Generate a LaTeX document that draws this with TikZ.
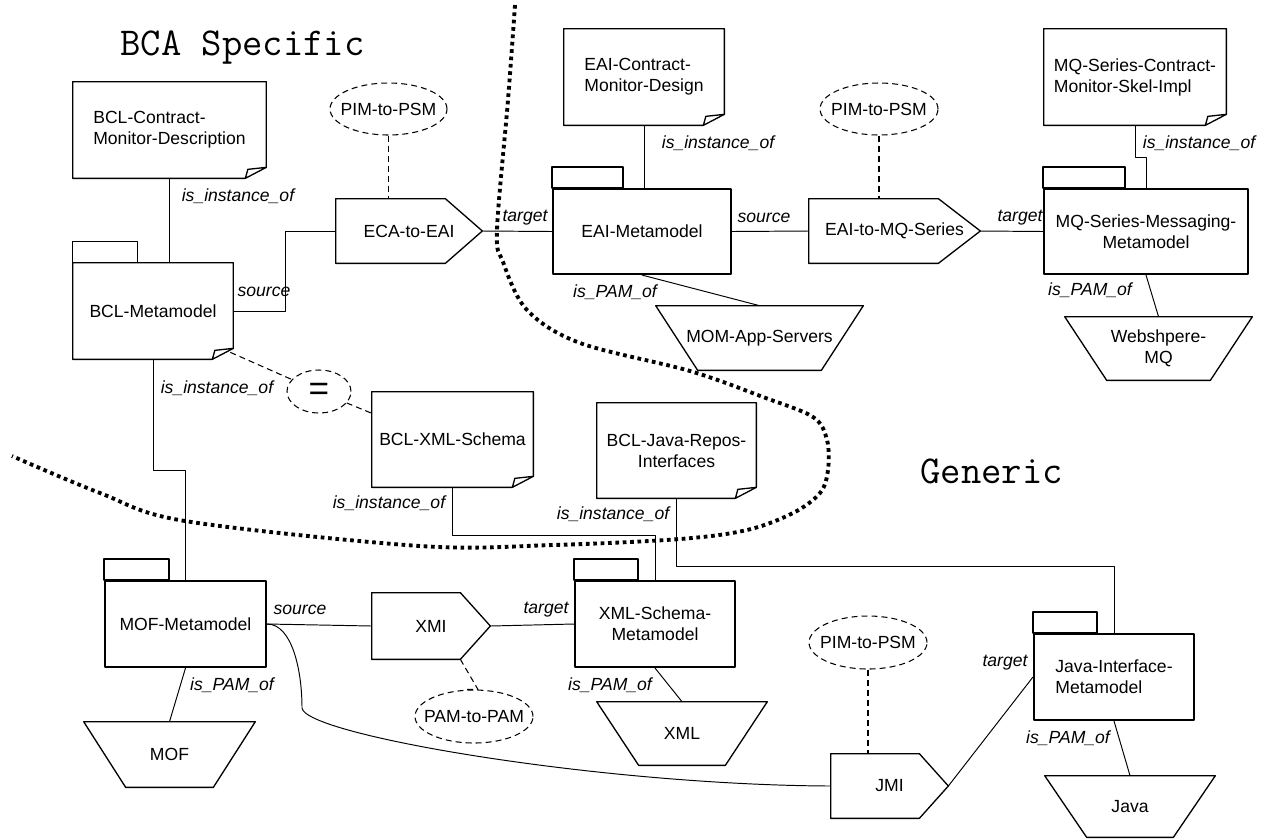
\documentclass[tikz,border=0pt]{standalone}
\usepackage{fontspec}
\setmainfont{Liberation Sans}
\usetikzlibrary{shapes.geometric}
\tikzset{
  shp/.style={line width=0.75pt},
  ln/.style={line width=0.55pt},
  dln/.style={line width=0.6pt,dash pattern=on 3.4pt off 2.3pt},
  border/.style={line width=2.2pt,dash pattern=on 2.1pt off 2.1pt},
  headtxt/.style={anchor=base west,inner sep=0pt,font=\ttfamily\fontsize{22.5}{27}\selectfont},
  doc/.style={inner sep=0pt,align=left},
  pkg/.style={draw,line width=1.2pt,inner sep=0pt,align=center},
  xform/.style={inner sep=0pt,align=center},
  plat/.style={inner sep=0pt,align=center},
  ell/.style={ellipse,draw,line width=0.6pt,dash pattern=on 3.4pt off 2.3pt,inner sep=0pt},
  lbl/.style={inner sep=0pt,font=\fontsize{10}{12}\selectfont\itshape}
}
% outlines of the node kinds
\newcommand{\docline}[1]{%
  \draw[shp] ([xshift=-0.42cm]#1.south east) -- (#1.south west) -- (#1.north west)
    -- (#1.north east) -- ([yshift=0.22cm]#1.south east) -- cycle
    ([xshift=-0.42cm]#1.south east) -- ([xshift=-0.37cm,yshift=0.18cm]#1.south east)
    -- ([yshift=0.22cm]#1.south east);}
\newcommand{\pkgtab}[2]{\draw[shp] (#1.north west) rectangle ([xshift=#2,yshift=0.42cm]#1.north west);}
\newcommand{\xformline}[2]{\draw[shp] (#1.north west) -- ([xshift=-#2]#1.north east) -- (#1.east)
    -- ([xshift=-#2]#1.south east) -- (#1.south west) -- cycle;}
\newcommand{\platline}[1]{\draw[shp] (#1.north west) -- (#1.north east) -- ([xshift=-0.84cm]#1.south east)
    -- ([xshift=0.84cm]#1.south west) -- cycle;}
\begin{document}
\begin{tikzpicture}[x=0.02cm,y=-0.02cm,line join=round,font=\fontsize{10}{12}\selectfont]
	\useasboundingbox (0,0) rectangle (1266,839);
	%titles
	\node[headtxt] (bca) at (120,55) {BCA Specific};
	\node[headtxt] (gen) at (920,483) {Generic};
	%border
	\draw[border] plot[smooth,tension=.55] coordinates {(515,5) (508,100) (497,230) (503,262) (527,310)
		(580,343) (690,371) (763,397) (813,417) (827,440) (828,470) (820,493) (793,513) (747,530)
		(680,539) (553,545) (420,546) (185,521) (100,493) (12,456)};
	%documents
	\node[doc,minimum width=3.86cm,minimum height=1.92cm] (bclcmd) at (169.5,130) {BCL-Contract-\\Monitor-Description};
	\node[doc,minimum width=3.2cm,minimum height=1.92cm] (eaicmd) at (644,77) {EAI-Contract-\\Monitor-Design};
	\node[doc,minimum width=3.64cm,minimum height=1.92cm] (mqcmd) at (1135,77) {MQ-Series-Contract-\\Monitor-Skel-Impl};
	\node[doc,minimum width=3.22cm,minimum height=1.9cm] (bclxml) at (452.5,439.5) {BCL-XML-Schema};
	\node[doc,align=center,minimum width=3.18cm,minimum height=1.9cm] (bcljava) at (676.5,450.5) {BCL-Java-Repos-\\Interfaces};
	\node[doc,minimum width=3.2cm,minimum height=1.92cm] (bclmm) at (153,311) {BCL-Metamodel};
	\foreach \n in {bclcmd,eaicmd,mqcmd,bclxml,bcljava,bclmm} {\docline{\n}}
	%metamodels
	\node[pkg,minimum width=3.56cm,minimum height=1.7cm] (eaimm) at (642,231.5) {EAI-Metamodel};
	\node[pkg,minimum width=4.08cm,minimum height=1.7cm] (mqmm) at (1146,231.5) {MQ-Series-Messaging-\\Metamodel};
	\node[pkg,minimum width=3.22cm,minimum height=1.72cm] (mofmm) at (185.5,624) {MOF-Metamodel};
	\node[pkg,minimum width=3.2cm,minimum height=1.72cm] (xmlmm) at (655,624) {XML-Schema-\\Metamodel};
	\node[pkg,align=left,minimum width=3.2cm,minimum height=1.72cm] (javamm) at (1114,677) {Java-Interface-\\Metamodel};
	\pkgtab{bclmm}{1.3cm}
	\pkgtab{eaimm}{1.42cm}
	\pkgtab{mqmm}{1.64cm}
	\pkgtab{mofmm}{1.3cm}
	\pkgtab{xmlmm}{1.28cm}
	\pkgtab{javamm}{1.28cm}
	%transformations
	\node[xform,minimum width=2.92cm,minimum height=1.28cm] (ecaeai) at (409,231) {ECA-to-EAI};
	\node[xform,minimum width=3.42cm,minimum height=1.28cm] (eaimq) at (894.5,231) {EAI-to-MQ-Series};
	\node[xform,minimum width=2.36cm,minimum height=1.32cm] (xmi) at (431,626) {XMI};
	\node[xform,minimum width=2.34cm,minimum height=1.28cm] (jmi) at (889.5,786) {JMI};
	\xformline{ecaeai}{0.74cm}
	\xformline{eaimq}{0.84cm}
	\xformline{xmi}{0.6cm}
	\xformline{jmi}{0.58cm}
	%platforms
	\node[plat,minimum width=3.42cm,minimum height=1.3cm] (mofpf) at (169.5,754.5) {MOF};
	\node[plat,minimum width=4.14cm,minimum height=1.28cm] (mompf) at (759.5,338) {MOM-App-Servers};
	\node[plat,minimum width=3.74cm,minimum height=1.26cm] (wmqpf) at (1158.5,348.5) {Webshpere-\\MQ};
	\node[plat,minimum width=3.4cm,minimum height=1.26cm] (xmlpf) at (682,733.5) {XML};
	\node[plat,minimum width=3.4cm,minimum height=1.22cm] (javapf) at (1130,806.5) {Java};
	\foreach \n in {mofpf,mompf,wmqpf,xmlpf,javapf} {\platline{\n}}
	%mapping kinds
	\node[ell,minimum width=2.34cm,minimum height=1.04cm] (pim1) at (388.5,109) {\makebox[0pt]{PIM-to-PSM}};
	\node[ell,minimum width=2.36cm,minimum height=1.04cm] (pim2) at (879,109) {\makebox[0pt]{PIM-to-PSM}};
	\node[ell,minimum width=1.28cm,minimum height=0.86cm,font=\fontsize{20}{20}\selectfont] (eqv) at (319,391.5) {=};
	\node[ell,minimum width=2.36cm,minimum height=1.06cm] (pampam) at (474,716.5) {\makebox[0pt]{PAM-to-PAM}};
	\node[ell,minimum width=2.36cm,minimum height=1.06cm] (pim3) at (868,642.5) {\makebox[0pt]{PIM-to-PSM}};
	%connections
	\draw[ln] (bclcmd.south) -- (bclcmd.south |- bclmm.north);
	\draw[ln] (bclmm.east) -- ++(52,0) |- (ecaeai.west);
	\draw[ln] (ecaeai.east) -- (eaimm.west);
	\draw[ln] (eaicmd.south) -- (eaicmd.south |- eaimm.north);
	\draw[ln] (eaimm.east) -- (eaimq.west);
	\draw[ln] (eaimm.south) -- (mompf.north);
	\draw[ln] (eaimq.east) -- (mqmm.west);
	\draw[ln] (mqcmd.south) -- ++(0,32) -| (mqmm.north);
	\draw[ln] (mqmm.south) -- (wmqpf.north);
	\draw[ln] (bclmm.south) -- ++(0,111) -| (mofmm.north);
	\draw[ln] (bclxml.south) -- ++(0,48) -| (xmlmm.north);
	\draw[ln] (bcljava.south) -- ++(0,68) -| (javamm.north);
	\draw[ln] (mofmm.east) -- (xmi.west);
	\draw[ln] (xmi.east) -- (xmlmm.west);
	\draw[ln] (mofmm.south) -- (mofpf.north);
	\draw[ln] (xmlmm.south) -- (xmlpf.north);
	\draw[ln] (mofmm.east) .. controls (292,624) and (302,670) .. (302,708)
		.. controls (305,735) and (600,785) .. (jmi.west);
	\draw[ln] (jmi.east) -- (javamm.west);
	\draw[ln] (javamm.south) -- (javapf.north);
	\draw[dln] (pim1.south) -- (pim1.south |- ecaeai.north);
	\draw[dln] (pim2.south) -- (pim2.south |- eaimq.north);
	\draw[dln] ([xshift=-0.06cm,yshift=0.14cm]bclmm.south east) -- (eqv);
	\draw[dln] (eqv) -- (bclxml.162);
	\draw[dln] ([xshift=-0.6cm]xmi.south east) -- ([xshift=0.08cm]pampam.north) -- ([xshift=-0.14cm]pampam.north);
	\draw[dln] (pim3.south) -- (pim3.south |- jmi.north);
	%labels
	\node[lbl] (l1) at (238,196) {is\_instance\_of};
	\node[lbl] (l2) at (264,292) {source};
	\node[lbl] (l3) at (525,218) {target};
	\node[lbl] (l4) at (718,143) {is\_instance\_of};
	\node[lbl] (l5) at (764,218) {source};
	\node[lbl] (l6) at (615,292) {is\_PAM\_of};
	\node[lbl] (l7) at (1020,218) {target};
	\node[lbl] (l8) at (1199,143) {is\_instance\_of};
	\node[lbl] (l9) at (1090,290) {is\_PAM\_of};
	\node[lbl] (l10) at (217,388) {is\_instance\_of};
	\node[lbl] (l11) at (389,503) {is\_instance\_of};
	\node[lbl] (l12) at (613,514) {is\_instance\_of};
	\node[lbl] (l13) at (300,610) {source};
	\node[lbl] (l14) at (546,610) {target};
	\node[lbl] (l15) at (232,685) {is\_PAM\_of};
	\node[lbl] (l16) at (610,685) {is\_PAM\_of};
	\node[lbl] (l17) at (1005,663) {target};
	\node[lbl] (l18) at (1068,738) {is\_PAM\_of};
\end{tikzpicture}
\end{document}
